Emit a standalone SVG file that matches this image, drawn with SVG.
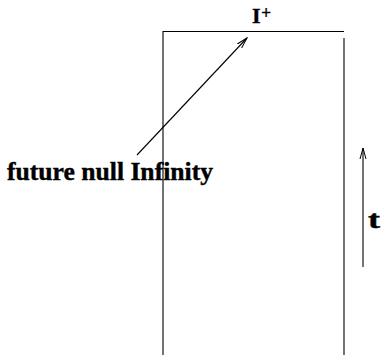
<svg xmlns="http://www.w3.org/2000/svg" width="386" height="361" viewBox="0 0 386 361">
<style>
.ln{stroke:#000;stroke-width:1.1;fill:none}
.lbl{font-family:"Liberation Serif","Times New Roman",serif;font-weight:bold;fill:#000}
</style>
<defs>
<marker id="ah" markerWidth="12" markerHeight="8" refX="11" refY="4" orient="auto" markerUnits="userSpaceOnUse">
<path d="M0,1 L11,4 L0,7" fill="none" stroke="#000" stroke-width="1"/>
</marker>
</defs>
<rect width="386" height="361" fill="#fff"/>
<g id="boundary">
<path class="ln" d="M163,355 L163,31.5 L344,31.5"/>
<path class="ln" d="M344,38 L344,355"/>
</g>
<g id="connectors">
<line class="ln" x1="137" y1="155" x2="247" y2="38" marker-end="url(#ah)"/>
<line class="ln" x1="363" y1="267" x2="363" y2="148" marker-end="url(#ah)"/>
</g>
<g id="label-scri">
<text class="lbl" x="252" y="23" font-size="22" stroke="#000" stroke-width="0.4">I<tspan font-size="18" dx="0.5" dy="-4.5" stroke-width="0.2">+</tspan></text>
</g>
<g id="label-future">
<text class="lbl" x="7" y="180" font-size="25" textLength="206" lengthAdjust="spacingAndGlyphs" stroke="#000" stroke-width="0.4">future null Infinity</text>
</g>
<g id="label-t">
<text class="lbl" x="368" y="228" font-size="25" stroke="#000" stroke-width="0.4" textLength="12" lengthAdjust="spacingAndGlyphs">t</text>
</g>
</svg>
